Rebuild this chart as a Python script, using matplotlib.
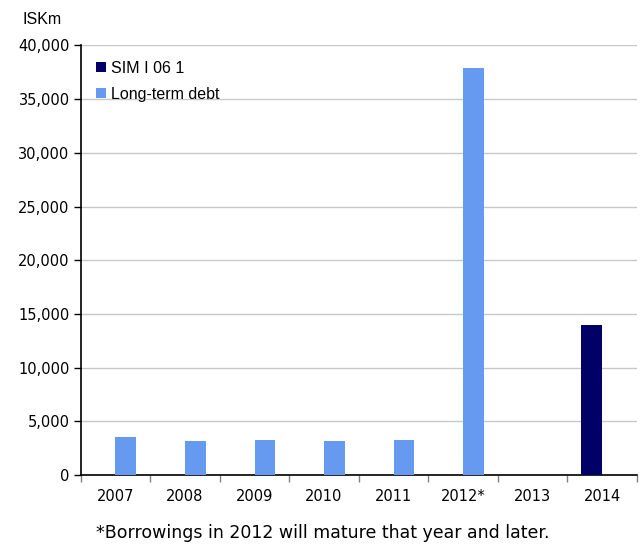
import numpy as np
import matplotlib.pyplot as plt
from matplotlib.ticker import FuncFormatter, FixedLocator

years = ["2007", "2008", "2009", "2010", "2011", "2012*", "2013", "2014"]
sim_i_06_1 = [0, 0, 0, 0, 0, 0, 0, 14000]
long_term_debt = [3500, 3150, 3250, 3150, 3250, 37900, 0, 0]

sim_color = "#000066"
ltd_color = "#6699f0"

fig = plt.figure(figsize=(6.42, 5.44), dpi=100)
ax = fig.add_axes([0.1257, 0.1268, 0.8663, 0.7897])

x = np.arange(len(years))
w = 0.3
ax.bar(x - w / 2, sim_i_06_1, width=w, color=sim_color, label="SIM I 06 1", zorder=3)
ax.bar(x + w / 2, long_term_debt, width=w, color=ltd_color, label="Long-term debt", zorder=3)

ax.set_xlim(-0.5, len(years) - 0.5)
ax.set_ylim(0, 40000)
ax.set_yticks(np.arange(0, 40001, 5000))
ax.yaxis.set_major_formatter(FuncFormatter(lambda v, p: f"{int(v):,}"))
ax.grid(axis="y", color="#c8c8c8", linewidth=1.0, zorder=0)

# category labels centred, ticks on the boundaries
ax.xaxis.set_major_locator(FixedLocator(np.arange(-0.5, len(years), 1.0)))
ax.xaxis.set_minor_locator(FixedLocator(x))
ax.set_xticklabels([])
ax.set_xticklabels(years, minor=True)
ax.tick_params(axis="x", which="major", length=5, color="#808080", width=1)
ax.tick_params(axis="x", which="minor", length=0, pad=10, labelsize=10.5)
ax.tick_params(axis="y", length=5, width=1, labelsize=10.5, pad=3)

for s in ["top", "right"]:
    ax.spines[s].set_visible(False)
ax.spines["left"].set_color("black")
ax.spines["bottom"].set_color("black")
ax.spines["left"].set_linewidth(1.2)
ax.spines["bottom"].set_linewidth(1.2)

ax.legend(loc="upper left", bbox_to_anchor=(0.002, 0.998), frameon=False,
          prop={"family": "Liberation Sans", "size": 11.5},
          handlelength=0.6, handleheight=0.6, handletextpad=0.3, labelspacing=0.7)

fig.text(23 / 642, 1 - 19 / 544, "ISKm", family="Liberation Sans", fontsize=11.5,
         ha="left", va="center")
fig.text(323 / 642, 1 - 533 / 544, "*Borrowings in 2012 will mature that year and later.",
         fontsize=12.5, ha="center", va="center")

fig.savefig("out.png", dpi=100)
